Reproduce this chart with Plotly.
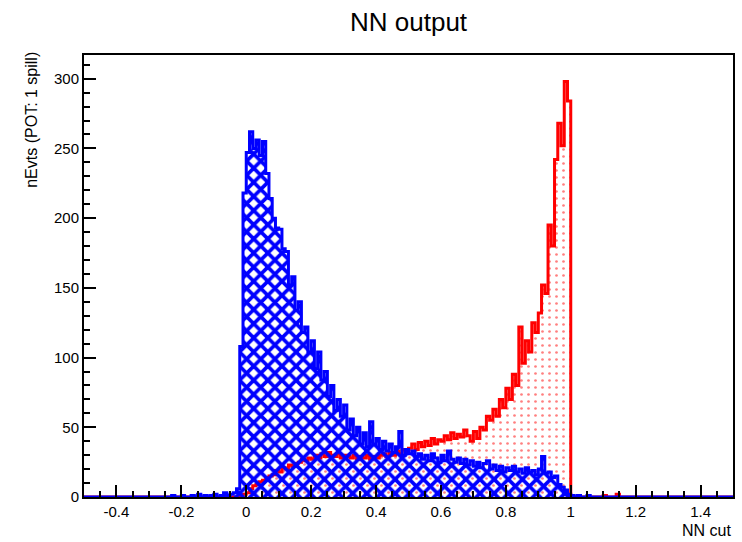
import numpy as np
import plotly.graph_objects as go

# ---- data (bin width 0.01 over [-0.5, 1.5]) ----
x_min, x_max, bin_w = -0.5, 1.5, 0.01

blue_start = -0.25
blue_counts = [0, 0, 1, 0, 0, 1, 0, 0, 1, 0, 2, 0, 1, 0, 1, 2, 0, 1, 3, 1, 2, 3, 6,
               108, 218,
               247, 262, 250, 256, 245, 255, 232, 214, 200, 193,
               192, 178, 176, 152, 158, 134, 140, 118, 122, 104,
               112, 92, 104, 84, 90, 72, 80, 62, 70, 58,
               66, 48, 56, 44, 50, 38, 46, 36, 54, 38,
               42, 34, 40, 33, 38, 32, 36, 47, 30, 34,
               31, 33, 29, 31, 27, 30, 26, 31, 28, 25,
               30, 26, 33, 27, 25, 28, 24, 27, 23, 26,
               22, 25, 21, 24, 26, 20, 23, 19, 22, 18,
               21, 19, 22, 18, 20, 17, 21, 18, 19, 16,
               20, 29, 17, 18, 14, 15, 9, 7, 5, 2,
               1, 0, 1, 0, 0, 1]

red_start = -0.02
red_counts = [0, 2, 3, 6, 8, 9, 11, 12, 14, 15, 16, 19,
              18, 21, 20, 23, 22, 24, 25, 27, 26, 28,
              27, 30, 28, 31, 29, 32, 30, 29, 31, 28,
              30, 29, 28, 30, 27, 29, 28, 30, 27, 29,
              28, 30, 31, 29, 32, 30, 33, 31, 34, 33,
              35, 38, 34, 39, 36, 40, 37, 42, 38, 41,
              40, 44, 41, 46, 42, 45, 43, 48, 44, 40,
              47, 42, 50, 48, 58, 55, 63, 58, 70, 64,
              78, 70, 88, 80, 122, 96, 112, 104, 125, 118,
              132, 152, 146, 195, 180, 242, 268, 252, 298, 284,
              0, 0, 0, 0, 0, 0, 0, 0, 0, 0, 1, 0, 0, 0, 2]

x_tickvals = [-0.4, -0.2, 0, 0.2, 0.4, 0.6, 0.8, 1, 1.2, 1.4]
x_ticktext = ["-0.4", "-0.2", "0", "0.2", "0.4", "0.6", "0.8", "1", "1.2", "1.4"]
y_tickvals = [0, 50, 100, 150, 200, 250, 300]

# ---- build full histograms ----
n_bins = int(round((x_max - x_min) / bin_w))
edges = x_min + bin_w * np.arange(n_bins + 1)


def full_hist(start, counts):
    h = np.zeros(n_bins)
    i0 = int(round((start - x_min) / bin_w))
    h[i0:i0 + len(counts)] = counts
    return h


blue = full_hist(blue_start, blue_counts)
red = full_hist(red_start, red_counts)


def step_xy(h):
    return list(edges), list(h) + [h[-1]]


bx, by = step_xy(blue)
rx, ry = step_xy(red)

clear = "rgba(0,0,0,0)"
fig = go.Figure()
# red fill (dots)
fig.add_trace(go.Scatter(x=rx, y=ry, mode="lines", line_shape="hv",
                         line=dict(width=0, color="red"), fill="tozeroy",
                         fillcolor=clear,
                         fillpattern=dict(shape=".", fgcolor="red", bgcolor=clear,
                                          size=7, solidity=0.12),
                         hoverinfo="skip", showlegend=False))
# red outline
fig.add_trace(go.Scatter(x=rx, y=ry, mode="lines", line_shape="hv",
                         line=dict(width=3, color="red"), showlegend=False))
# blue fill (weave-like pattern with transparent gaps)
fig.add_trace(go.Scatter(x=bx, y=by, mode="lines", line_shape="hv",
                         line=dict(width=0, color="blue"), fill="tozeroy",
                         fillcolor=clear,
                         fillpattern=dict(shape="x", fgcolor="blue", bgcolor=clear,
                                          fgopacity=1, size=10, solidity=0.6),
                         hoverinfo="skip", showlegend=False))
# blue outline
fig.add_trace(go.Scatter(x=bx, y=by, mode="lines", line_shape="hv",
                         line=dict(width=3, color="blue"), showlegend=False))

font_fam = "Liberation Sans, Arial, Helvetica, sans-serif"
fig.update_layout(
    width=742, height=542,
    margin=dict(l=84, r=7, t=55, b=45),
    paper_bgcolor="white", plot_bgcolor="white",
    font=dict(family=font_fam, color="black", size=15),
    xaxis=dict(range=[x_min, x_max], tickvals=x_tickvals, ticktext=x_ticktext,
               ticks="inside", ticklen=12, tickwidth=1.5, tickcolor="black",
               minor=dict(dtick=0.05, tick0=0, ticks="inside", ticklen=6,
                          tickwidth=1.5, tickcolor="black"),
               showline=True, linecolor="black", linewidth=2, mirror=True,
               showgrid=False, zeroline=False, tickfont=dict(size=15)),
    yaxis=dict(range=[0, 317], tickvals=y_tickvals,
               ticks="inside", ticklen=12, tickwidth=1.5, tickcolor="black",
               minor=dict(dtick=10, tick0=0, ticks="inside", ticklen=6,
                          tickwidth=1.5, tickcolor="black"),
               showline=True, linecolor="black", linewidth=2, mirror=True,
               showgrid=False, zeroline=False, tickfont=dict(size=15)),
    annotations=[
        dict(text="NN output", xref="paper", yref="paper", x=0.5008, y=1.0747,
             xanchor="center", yanchor="middle", showarrow=False,
             font=dict(size=26)),
        dict(text="nEvts (POT: 1 spill)", xref="paper", yref="paper",
             x=-0.08, y=1.012, xanchor="center", yanchor="top", textangle=-90,
             showarrow=False, font=dict(size=16)),
        dict(text="NN cut", xref="paper", yref="paper", x=1.0, y=-0.075,
             xanchor="right", yanchor="middle", showarrow=False,
             font=dict(size=16)),
    ],
)

fig.write_html("out.html")
